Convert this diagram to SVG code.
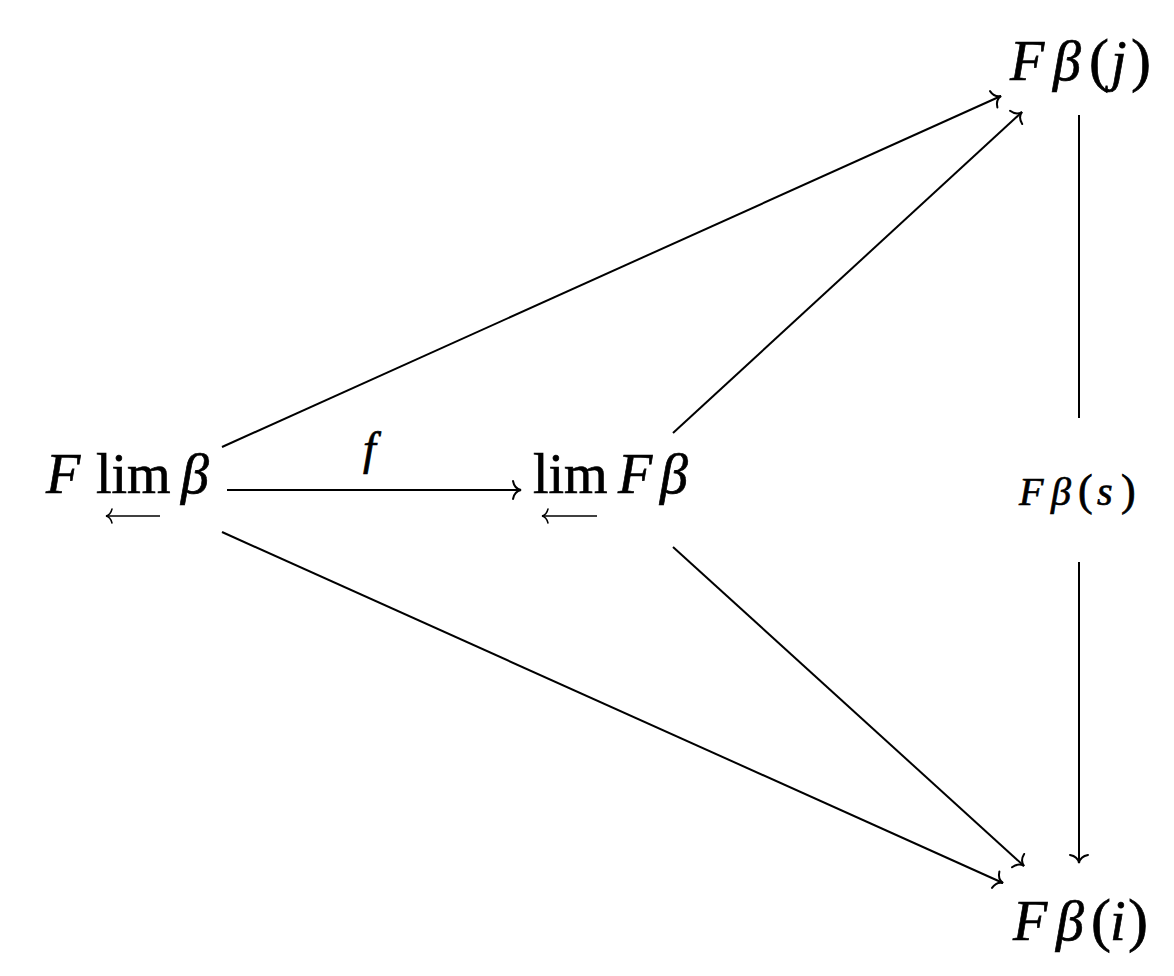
<svg xmlns="http://www.w3.org/2000/svg" width="1174" height="976" viewBox="0 0 1174 976">
<style>
.t{font-family:"Liberation Serif","DejaVu Serif",serif;fill:#000;stroke:#000;stroke-width:0.7}
.i{font-style:italic}
.p{font-style:normal;font-size:60px}
.c{stroke:#000;stroke-width:2;fill:none}
.s{stroke:#000;stroke-width:1.5;fill:none}
</style>
<defs>
<marker id="to" markerUnits="userSpaceOnUse" markerWidth="24" markerHeight="24" viewBox="-12 -12 24 24" refX="0" refY="0" orient="auto">
<path d="M-8,-9 C-7,-3.5 -3.5,-0.7 0,0 C-3.5,0.7 -7,3.5 -8,9" stroke="#000" stroke-width="2" fill="none" stroke-linecap="round"/>
</marker>
<marker id="sm" markerUnits="userSpaceOnUse" markerWidth="20" markerHeight="20" viewBox="-10 -10 20 20" refX="0" refY="0" orient="auto">
<path d="M-6,-7 C-5,-3 -2.5,-0.5 0,0 C-2.5,0.5 -5,3 -6,7" stroke="#000" stroke-width="1.5" fill="none" stroke-linecap="round"/>
</marker>
</defs>
<g id="connectors">
<line class="c" x1="222" y1="447" x2="1001" y2="96" marker-end="url(#to)"/>
<line class="c" x1="673" y1="433" x2="1022" y2="112" marker-end="url(#to)"/>
<line class="c" x1="227" y1="490" x2="521" y2="490" marker-end="url(#to)"/>
<line class="c" x1="222" y1="532" x2="1003" y2="883" marker-end="url(#to)"/>
<line class="c" x1="673" y1="547" x2="1024" y2="866" marker-end="url(#to)"/>
<line class="c" x1="1079" y1="115" x2="1079" y2="418"/>
<line class="c" x1="1079" y1="562" x2="1079" y2="863" marker-end="url(#to)"/>
<text class="t i" x="363" y="464" font-size="46">f</text>
</g>
<g id="n-Flim">
<text class="t" y="493" font-size="56"><tspan class="i" x="46">F</tspan><tspan x="96">lim</tspan><tspan class="i" x="181">β</tspan></text>
<line class="s" x1="160" y1="516" x2="106" y2="516" marker-end="url(#sm)"/>
</g>
<g id="n-limF">
<text class="t" y="493" font-size="56"><tspan x="533">lim</tspan><tspan class="i" x="618">F</tspan><tspan class="i" x="660">β</tspan></text>
<line class="s" x1="597" y1="516" x2="542" y2="516" marker-end="url(#sm)"/>
</g>
<g id="n-Fj">
<text class="t i" y="80" font-size="56"><tspan x="1010">F</tspan><tspan x="1053">β</tspan><tspan class="p" x="1089">(</tspan><tspan x="1111">j</tspan><tspan class="p" x="1131">)</tspan></text>
</g>
<g id="n-Fs">
<text class="t i" y="505" font-size="40"><tspan x="1019">F</tspan><tspan x="1051">β</tspan><tspan x="1078" font-style="normal" font-size="44">(</tspan><tspan x="1097">s</tspan><tspan x="1121" font-style="normal" font-size="44">)</tspan></text>
</g>
<g id="n-Fi">
<text class="t i" y="940" font-size="56"><tspan x="1013">F</tspan><tspan x="1056">β</tspan><tspan class="p" x="1091">(</tspan><tspan x="1110">i</tspan><tspan class="p" x="1128">)</tspan></text>
</g>
</svg>
